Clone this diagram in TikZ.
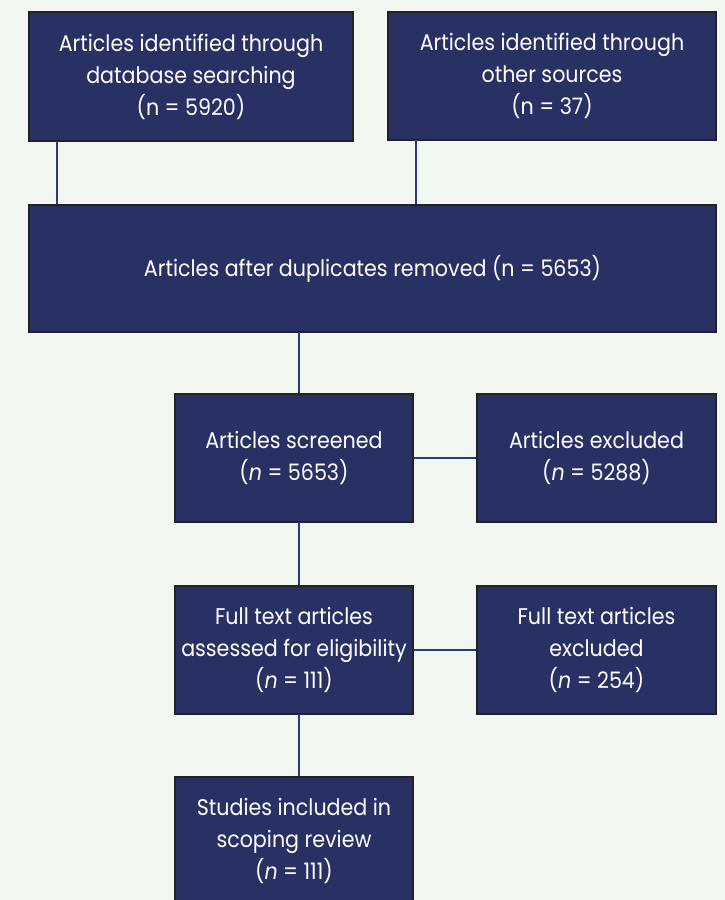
\documentclass[tikz,border=0pt]{standalone}
\usepackage{fontspec}
\setmainfont{Poppins}[FakeStretch=0.91]
\definecolor{bg}{HTML}{F2F8F1}
\definecolor{boxfill}{HTML}{293164}
\definecolor{boxline}{HTML}{222222}
\definecolor{conn}{HTML}{2F3A78}
\begin{document}
\begin{tikzpicture}[x=0.75pt,y=-0.75pt,
  box/.style={draw=boxline,line width=1.6pt,fill=boxfill,text=white,align=center,
    inner sep=0pt,font=\fontsize{17}{24}\selectfont},
  link/.style={draw=conn,line width=1.5pt}]
\fill[bg] (0,0) rectangle (725,900);
\useasboundingbox (0,0) rectangle (725,900);
\begin{scope}
\clip (0,0) rectangle (725,900);
\node[box,minimum width=324*0.75pt,minimum height=129*0.75pt] (a) at (191,76.5) {Articles identified through\\database searching\\(n = 5920)};
\node[box,minimum width=328*0.75pt,minimum height=128*0.75pt] (b) at (552,76) {Articles identified through\\other sources\\(n = 37)};
\node[box,minimum width=687*0.75pt,minimum height=127*0.75pt] (c) at (372.5,268.5) {Articles after duplicates removed (n = 5653)};
\node[box,minimum width=238*0.75pt,minimum height=128*0.75pt] (d) at (294,458) {Articles screened\\(\textit{n} = 5653)};
\node[box,minimum width=239*0.75pt,minimum height=128*0.75pt] (e) at (596.5,458) {Articles excluded\\(\textit{n} = 5288)};
\node[box,minimum width=238*0.75pt,minimum height=128*0.75pt] (f) at (294,650) {Full text articles\\assessed for eligibility\\(\textit{n} = 111)};
\node[box,minimum width=239*0.75pt,minimum height=128*0.75pt] (g) at (596.5,650) {Full text articles\\excluded\\(\textit{n} = 254)};
\node[box,minimum width=238*0.75pt,minimum height=128*0.75pt] (h) at (294,841) {Studies included in\\scoping review\\(\textit{n} = 111)};
\coordinate (a1) at (57,141);
\coordinate (b1) at (416,140);
\draw[link] (a1) -- (a1 |- c.north);
\draw[link] (b1) -- (b1 |- c.north);
\draw[link] (299,332) coordinate (c1) -- (c1 |- d.north);
\draw[link] (d.east) -- (e.west);
\draw[link] (299,522) coordinate (d1) -- (d1 |- f.north);
\draw[link] (f.east) -- (g.west);
\draw[link] (299,714) coordinate (f1) -- (f1 |- h.north);
\end{scope}
\end{tikzpicture}
\end{document}
